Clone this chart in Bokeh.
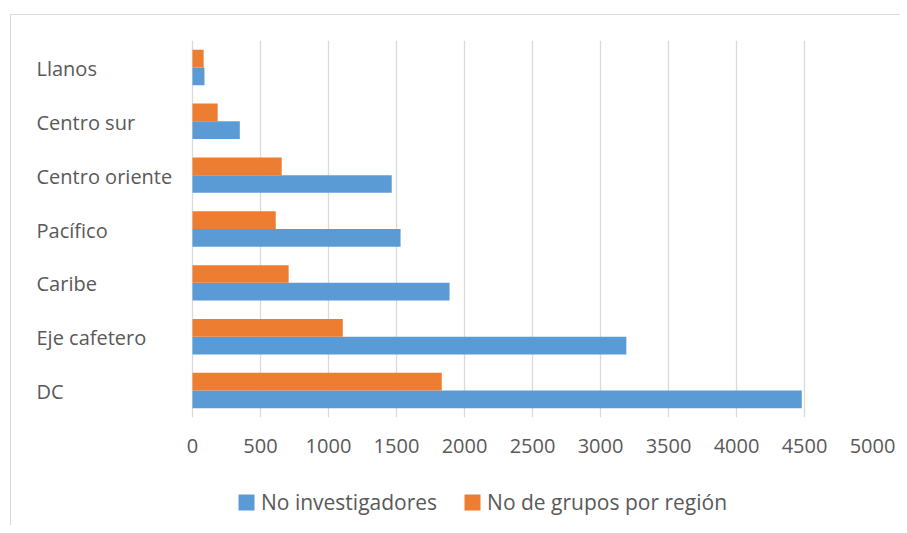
from bokeh.plotting import figure
from bokeh.layouts import column
from bokeh.models import (ColumnDataSource, Range1d, FactorRange, FixedTicker,
                          Legend, LegendItem, NumeralTickFormatter)
from bokeh.core.properties import value
from bokeh.transform import dodge
from bokeh.embed import file_html
from bokeh.resources import INLINE

# ---- data (bottom to top) ----
regions = ["DC", "Eje cafetero", "Caribe", "Pacífico", "Centro oriente", "Centro sur", "Llanos"]
investigadores = [4480, 3190, 1890, 1530, 1465, 348, 88]
grupos = [1833, 1105, 707, 612, 656, 185, 82]
x_ticks = [0, 500, 1000, 1500, 2000, 2500, 3000, 3500, 4000, 4500, 5000]
series_names = ["No investigadores", "No de grupos por región"]

BLUE = "#5B9BD5"
ORANGE = "#ED7D31"
TEXT = "#595959"
GRID = "#D9D9D9"
FONT = "Open Sans"
FS = "20px"

X_MAX = 5000
LABEL_SPACE = 1147  # value units reserved left of zero for the category labels

src = ColumnDataSource(dict(region=regions, inv=investigadores, gru=grupos,
                            lx=[-LABEL_SPACE] * len(regions)))

p = figure(width=889, height=452, output_backend="svg", toolbar_location=None,
           y_range=FactorRange(factors=regions), x_range=Range1d(-LABEL_SPACE, X_MAX),
           min_border_left=25, min_border_right=28, min_border_top=25,
           min_border_bottom=50)
p.outline_line_color = None
p.background_fill_color = "white"
p.border_fill_color = "white"

bw = 0.329
r_blue = p.hbar(y=dodge("region", -bw / 2, range=p.y_range), right="inv", left=0, height=bw,
                source=src, fill_color=BLUE, line_color=None)
r_orange = p.hbar(y=dodge("region", bw / 2, range=p.y_range), right="gru", left=0, height=bw,
                  source=src, fill_color=ORANGE, line_color=None)

# category labels, left aligned
p.text(x="lx", y="region", text="region", source=src, text_align="left",
       text_baseline="middle", y_offset=1, text_font=value(FONT), text_font_size=FS,
       text_color=TEXT)

p.yaxis.visible = False
p.ygrid.grid_line_color = None
p.xgrid.grid_line_color = GRID
p.xgrid.grid_line_width = 1.3
p.xaxis.ticker = FixedTicker(ticks=x_ticks)
p.xaxis.axis_line_color = None
p.xaxis.major_tick_line_color = None
p.xaxis.minor_tick_line_color = None
p.xaxis.major_tick_out = 0
p.xaxis.major_tick_in = 0
p.xaxis.major_label_standoff = 21
p.xaxis.major_label_text_font = FONT
p.xaxis.major_label_text_font_size = FS
p.xaxis.major_label_text_color = TEXT
p.xaxis.formatter = NumeralTickFormatter(format="0")

# legend strip below the chart (legend-only swatches, no visible marks)
pl = figure(width=889, height=58, output_backend="svg", toolbar_location=None,
            x_range=Range1d(0, 1), y_range=Range1d(0, 1),
            min_border_left=0, min_border_right=0, min_border_top=0, min_border_bottom=0)
pl.axis.visible = False
pl.grid.visible = False
pl.outline_line_color = None
pl.border_fill_color = "white"
nan = float("nan")
swatch = ColumnDataSource(dict(l=[nan], r=[nan], t=[nan], b=[nan]))
lb = pl.quad(left="l", right="r", top="t", bottom="b", source=swatch,
             fill_color=BLUE, line_color=None)
lo = pl.quad(left="l", right="r", top="t", bottom="b", source=swatch,
             fill_color=ORANGE, line_color=None)

legend = Legend(items=[LegendItem(label=series_names[0], renderers=[lb]),
                       LegendItem(label=series_names[1], renderers=[lo])],
                orientation="horizontal", location=(200, 9))
legend.border_line_color = None
legend.background_fill_alpha = 0
legend.padding = 0
legend.margin = 0
legend.spacing = 25
legend.label_standoff = 5
legend.glyph_width = 20
legend.glyph_height = 20
legend.label_text_font = FONT
legend.label_text_font_size = "21px"
legend.label_text_color = TEXT
pl.add_layout(legend)

layout = column(p, pl, spacing=0)
layout.margin = (14, 0, 0, 10)
layout.styles = {"border-top": "1px solid #D9D9D9", "border-left": "1px solid #D9D9D9"}

open("out.html", "w").write(file_html(layout, INLINE))
